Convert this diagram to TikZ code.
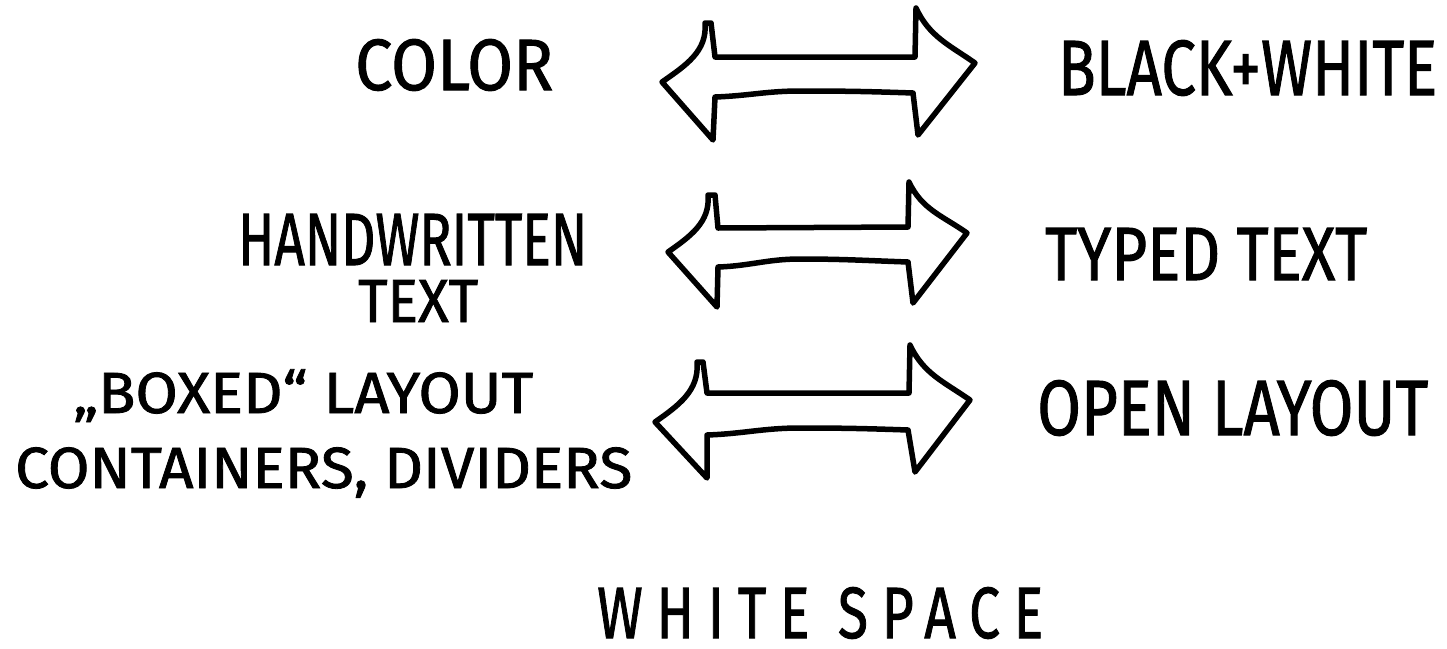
\documentclass[tikz,border=0pt]{standalone}
\usepackage{fontspec}
\setmainfont{Fira Sans}
\newcommand{\hwtext}[3]{\resizebox{#1pt}{#2pt}{\smash{#3}\vphantom{H}}}
\begin{document}
\begin{tikzpicture}[x=1pt,y=-1pt,
  lbl/.style={font=\fontsize{40}{44}\selectfont\addfontfeature{FakeBold=1.4}, inner sep=0pt, anchor=base west},
  dblarrow/.style={line width=5.5pt, line join=round, line cap=round, draw=black, fill=white}]
\useasboundingbox (0,0) rectangle (1447,648);
\fill[white] (0,0) rectangle (1447,648);

% labels
\node[lbl] (color) at (355,90) {\hwtext{198}{50}{COLOR}};
\node[lbl] (bw) at (1058,95) {\hwtext{379}{54}{BLACK+WHITE}};
\node[lbl] (hand) at (238,265) {\hwtext{349}{51}{HANDWRITTEN}};
\node[lbl] (handtext) at (358,322) {\hwtext{120}{42}{TEXT}};
\node[lbl] (typed) at (1045,280) {\hwtext{322}{52}{TYPED TEXT}};
\node[lbl] (boxed) at (73,413) {\hwtext{460}{40}{„BOXED“ LAYOUT}};
\node[lbl] (cont) at (15,488) {\hwtext{617}{40}{CONTAINERS, DIVIDERS}};
\node[lbl] (open) at (1037,435) {\hwtext{391}{54}{OPEN LAYOUT}};
\node[lbl] (ws) at (597,638) {\hwtext{446}{50}{\addfontfeature{LetterSpace=25}WHITE SPACE}};

% arrow 1
\draw[dblarrow] (662,82) to[out=35,in=-85] (705,23) -- (711,23) -- (715,57)
  -- (915,57) -- (916,8) to[out=-65,in=145] (975,63) -- (918,135) -- (913,93)
  to[out=178,in=0] (800,91) to[out=180,in=2] (715,97) -- (713,140) -- cycle;
% arrow 2
\draw[dblarrow] (668,252) to[out=35,in=-85] (708,195) -- (715,195) -- (718,228)
  -- (908,227) -- (909,182) to[out=-65,in=145] (967,233) -- (913,303) -- (908,262)
  to[out=178,in=0] (800,259) to[out=180,in=2] (718,267) -- (717,307) -- cycle;
% arrow 3
\draw[dblarrow] (655,422) to[out=35,in=-85] (697,362) -- (703,362) -- (707,393)
  -- (909,393) -- (910,345) to[out=-65,in=145] (970,400) -- (915,472) -- (908,430)
  to[out=178,in=0] (800,428) to[out=180,in=2] (707,435) -- (707,478) -- cycle;
\end{tikzpicture}
\end{document}
